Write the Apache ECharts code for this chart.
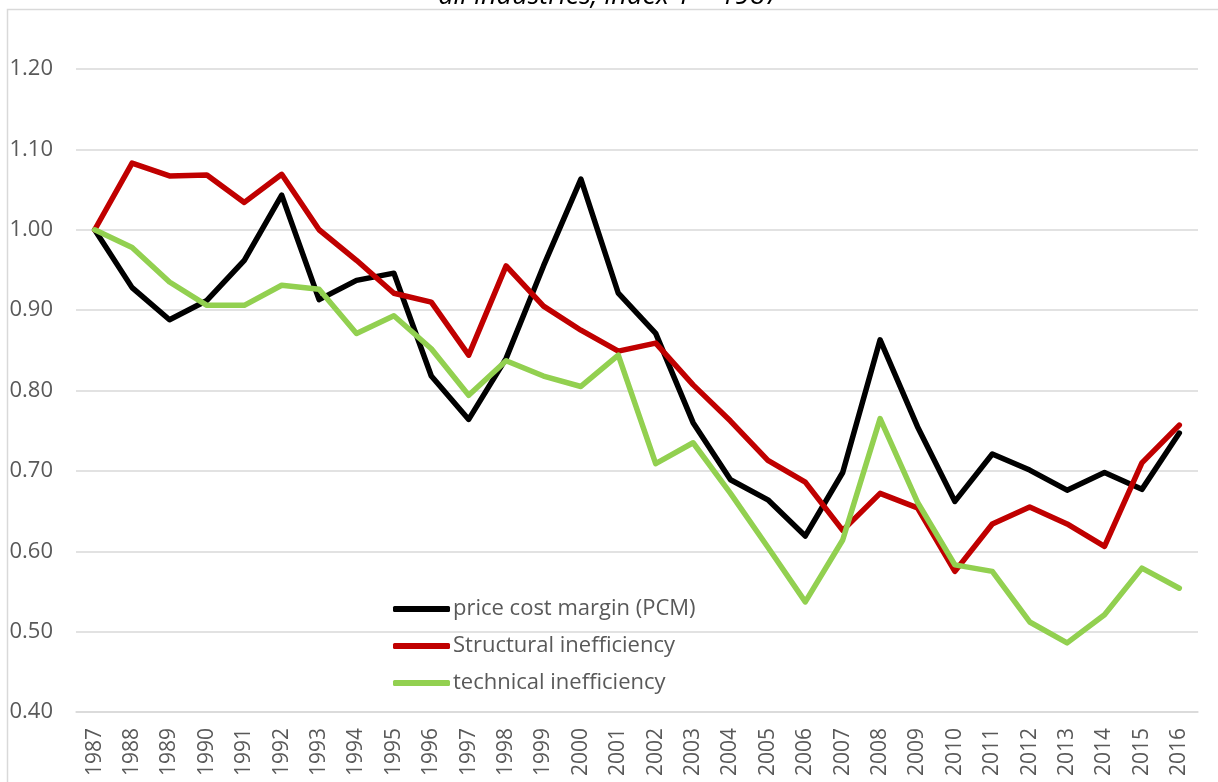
<!DOCTYPE html>
<html>
<head>
<meta charset="utf-8">
<script src="https://cdn.jsdelivr.net/npm/echarts@6/dist/echarts.min.js"></script>
<style>html,body{margin:0;padding:0;background:#fff}#c{width:1218px;height:782px}</style>
</head>
<body>
<div id="c"></div>
<script>
const years = ['1987','1988','1989','1990','1991','1992','1993','1994','1995','1996','1997','1998','1999','2000','2001','2002','2003','2004','2005','2006','2007','2008','2009','2010','2011','2012','2013','2014','2015','2016'];
const pcm = [1.000,0.928,0.888,0.912,0.962,1.043,0.913,0.937,0.946,0.818,0.764,0.840,0.955,1.063,0.921,0.871,0.760,0.689,0.664,0.619,0.698,0.863,0.755,0.662,0.721,0.701,0.676,0.698,0.677,0.747];
const structural = [1.000,1.083,1.067,1.068,1.034,1.069,1.000,0.962,0.921,0.910,0.844,0.955,0.905,0.875,0.849,0.859,0.807,0.762,0.713,0.686,0.626,0.672,0.654,0.575,0.634,0.655,0.634,0.606,0.710,0.757];
const technical = [1.000,0.978,0.935,0.906,0.906,0.931,0.926,0.871,0.893,0.852,0.794,0.837,0.818,0.805,0.844,0.709,0.735,0.672,0.605,0.537,0.614,0.765,0.661,0.583,0.575,0.512,0.486,0.521,0.579,0.554];
const seriesNames = ['price cost margin (PCM)','Structural inefficiency','technical inefficiency'];
const yTicks = {min:0.4, max:1.2, interval:0.1};
const titleText = 'all industries, index 1 = 1987';

const chart = echarts.init(document.getElementById('c'), null, {renderer:'canvas'});
const font = '"Open Sans", "Noto Sans", sans-serif';
function mk(name, data, color){
  return {name, type:'line', data, symbol:'none', smooth:false,
    lineStyle:{color, width:5.5, cap:'round', join:'round'}, itemStyle:{color}};
}
chart.setOption({
  animation:false,
  title:{text:titleText, left:'center', top:-17, padding:0, textStyle:{fontFamily:font, fontStyle:'italic', fontWeight:'normal', fontSize:27, color:'#000'}},
  graphic:[{type:'rect', shape:{x:7.5, y:9.5, width:1230, height:800}, style:{fill:null, stroke:'#d9d9d9', lineWidth:1.5}, silent:true}],
  grid:{left:76, right:20, top:69, bottom:70},
  legend:{orient:'vertical', left:393, top:598, padding:0, itemWidth:57, itemHeight:6, itemGap:15,
    icon:'roundRect', data:seriesNames,
    textStyle:{fontFamily:font, fontSize:22, color:'#595959', padding:[0,0,0,-2]}},
  xAxis:{type:'category', data:years, boundaryGap:true,
    axisLine:{show:true, lineStyle:{color:'#d9d9d9', width:1.5}},
    axisTick:{show:false},
    axisLabel:{rotate:90, fontFamily:font, fontSize:21, color:'#595959', margin:16, interval:0}},
  yAxis:{type:'value', min:yTicks.min, max:yTicks.max, interval:yTicks.interval,
    axisLine:{show:false}, axisTick:{show:false},
    splitLine:{lineStyle:{color:'#d9d9d9', width:1.5}},
    axisLabel:{fontFamily:font, fontSize:22, color:'#595959', margin:23, formatter:v=>v.toFixed(2)}},
  series:[mk(seriesNames[0], pcm, '#000000'), mk(seriesNames[1], structural, '#C00000'), mk(seriesNames[2], technical, '#92D050')]
});
</script>
</body>
</html>
